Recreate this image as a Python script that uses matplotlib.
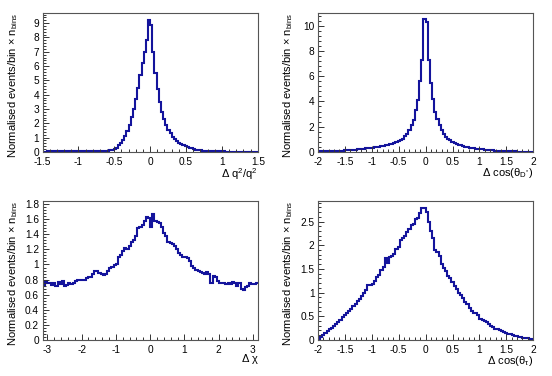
import numpy as np
import matplotlib
matplotlib.use('Agg')
import matplotlib.pyplot as plt
from matplotlib.ticker import MultipleLocator, AutoMinorLocator

plt.rcParams['font.family'] = ['Liberation Sans', 'DejaVu Sans']
plt.rcParams['mathtext.fontset'] = 'custom'
plt.rcParams['mathtext.rm'] = 'Liberation Sans'
plt.rcParams['mathtext.it'] = 'Liberation Sans'

# histogram contents, 100 bins each
q2_vals = [0.02, 0.02, 0.03, 0.03, 0.03, 0.03, 0.04, 0.04, 0.04, 0.05,
           0.05, 0.05, 0.06, 0.06, 0.07, 0.07, 0.08, 0.08, 0.08, 0.08,
           0.08, 0.07, 0.07, 0.06, 0.06, 0.05, 0.05, 0.05, 0.06, 0.07,
           0.08, 0.10, 0.14, 0.20, 0.30, 0.45, 0.62, 0.85, 1.10, 1.45,
           1.90, 2.45, 3.00, 3.70, 4.50, 5.40, 6.20, 7.00, 7.80, 9.20,
           8.90, 7.00, 5.50, 4.40, 3.50, 2.80, 2.30, 1.90, 1.55, 1.30,
           1.05, 0.90, 0.75, 0.62, 0.55, 0.48, 0.42, 0.36, 0.30, 0.25,
           0.20, 0.16, 0.13, 0.11, 0.09, 0.08, 0.07, 0.06, 0.05, 0.05,
           0.04, 0.04, 0.03, 0.03, 0.03, 0.02, 0.02, 0.02, 0.02, 0.02,
           0.01, 0.01, 0.01, 0.01, 0.01, 0.01, 0.01, 0.01, 0.01, 0.01]

cosd_vals = [0.04, 0.04, 0.05, 0.05, 0.06, 0.06, 0.07, 0.07, 0.08, 0.09,
             0.10, 0.11, 0.12, 0.13, 0.14, 0.15, 0.17, 0.18, 0.20, 0.21,
             0.23, 0.25, 0.27, 0.29, 0.31, 0.33, 0.35, 0.37, 0.40, 0.43,
             0.47, 0.52, 0.56, 0.60, 0.66, 0.72, 0.78, 0.86, 0.95, 1.05,
             1.25, 1.45, 1.70, 2.10, 2.55, 3.30, 4.10, 5.60, 7.30, 10.50,
             10.30, 7.30, 5.50, 4.20, 3.20, 2.60, 2.10, 1.75, 1.40, 1.20,
             1.05, 0.92, 0.80, 0.72, 0.65, 0.58, 0.52, 0.47, 0.42, 0.38,
             0.34, 0.31, 0.28, 0.25, 0.23, 0.21, 0.20, 0.18, 0.16, 0.14,
             0.13, 0.12, 0.10, 0.09, 0.08, 0.07, 0.07, 0.06, 0.05, 0.05,
             0.04, 0.04, 0.03, 0.03, 0.03, 0.03, 0.02, 0.02, 0.02, 0.02]

chi_vals = [0.72, 0.78, 0.76, 0.76, 0.73, 0.75, 0.72, 0.77, 0.74, 0.78,
            0.72, 0.73, 0.75, 0.74, 0.76, 0.78, 0.80, 0.80, 0.79, 0.80,
            0.82, 0.83, 0.84, 0.88, 0.92, 0.91, 0.89, 0.87, 0.86, 0.88,
            0.92, 0.95, 0.97, 0.99, 1.00, 1.10, 1.13, 1.18, 1.22, 1.20,
            1.25, 1.30, 1.33, 1.38, 1.48, 1.50, 1.52, 1.58, 1.63, 1.62,
            1.50, 1.67, 1.58, 1.57, 1.55, 1.50, 1.42, 1.38, 1.30, 1.28,
            1.27, 1.25, 1.20, 1.15, 1.12, 1.10, 1.10, 1.08, 1.05, 0.98,
            0.95, 0.93, 0.92, 0.90, 0.89, 0.88, 0.90, 0.87, 0.75, 0.85,
            0.84, 0.78, 0.76, 0.75, 0.75, 0.74, 0.75, 0.74, 0.77, 0.76,
            0.72, 0.76, 0.68, 0.66, 0.70, 0.72, 0.76, 0.74, 0.74, 0.75]

cost_vals = [0.02, 0.06, 0.10, 0.14, 0.18, 0.22, 0.26, 0.30, 0.34, 0.38,
             0.43, 0.48, 0.53, 0.57, 0.61, 0.66, 0.72, 0.76, 0.82, 0.86,
             0.93, 0.99, 1.05, 1.17, 1.17, 1.18, 1.25, 1.32, 1.38, 1.48,
             1.55, 1.72, 1.63, 1.76, 1.78, 1.82, 1.92, 1.96, 2.12, 2.15,
             2.20, 2.28, 2.35, 2.42, 2.45, 2.55, 2.58, 2.68, 2.78, 2.78,
             2.70, 2.50, 2.30, 2.15, 1.90, 1.85, 1.78, 1.60, 1.52, 1.45,
             1.36, 1.30, 1.22, 1.13, 1.08, 1.00, 0.95, 0.88, 0.80, 0.75,
             0.68, 0.60, 0.57, 0.56, 0.52, 0.44, 0.42, 0.40, 0.37, 0.33,
             0.30, 0.27, 0.24, 0.22, 0.20, 0.18, 0.17, 0.15, 0.13, 0.12,
             0.10, 0.09, 0.08, 0.07, 0.06, 0.05, 0.04, 0.03, 0.02, 0.01]

panels = [
    # values, xrange, ymax, x major, y major, x title
    (q2_vals, (-1.5, 1.5), 9.7, 0.5, 1, 'Δ q$^{2}$/q$^{2}$'),
    (cosd_vals, (-2, 2), 11.0, 0.5, 2, 'Δ cos(θ$_{D^{*}}$)'),
    (chi_vals, (-np.pi, np.pi), 1.84, 1, 0.2, 'Δ χ'),
    (cost_vals, (-2, 2), 2.93, 0.5, 0.5, 'Δ cos(θ$_{τ}$)'),
]

ylab = 'Normalised events/bin × n$_{bins}$'
pos = [[0.077, 0.596, 0.390, 0.369],
       [0.576, 0.596, 0.390, 0.369],
       [0.077, 0.096, 0.390, 0.369],
       [0.576, 0.096, 0.390, 0.369]]

fig = plt.figure(figsize=(5.52, 3.76), dpi=100)
for p, (vals, xr, ymax, xmaj, ymaj, xt) in zip(pos, panels):
    ax = fig.add_axes(p)
    edges = np.linspace(xr[0], xr[1], len(vals) + 1)
    ax.stairs(vals, edges, color='#14149c', lw=1.5, baseline=None)
    ax.set_xlim(xr)
    ax.set_ylim(0, ymax)
    ax.xaxis.set_major_locator(MultipleLocator(xmaj))
    ax.yaxis.set_major_locator(MultipleLocator(ymaj))
    ax.xaxis.set_minor_locator(AutoMinorLocator(5))
    ax.yaxis.set_minor_locator(AutoMinorLocator(5))
    ax.tick_params(which='both', direction='in', top=False, right=False,
                   labelsize=7.3, color='#333333', width=0.7)
    ax.tick_params(axis='x', which='major', pad=3.5)
    ax.tick_params(axis='y', which='major', pad=2.5)
    ax.tick_params(which='major', length=4)
    ax.tick_params(which='minor', length=2)
    ax.xaxis.set_major_formatter(plt.FuncFormatter(lambda v, _: '%g' % round(v, 2)))
    ax.yaxis.set_major_formatter(plt.FuncFormatter(lambda v, _: '%g' % round(v, 2)))
    for s in ax.spines.values():
        s.set_color('#555555')
        s.set_linewidth(0.8)
    ax.text(1.0, -0.105, xt, transform=ax.transAxes, ha='right', va='top', fontsize=8)
    ax.text(-0.137, 1.0, ylab, transform=ax.transAxes, rotation=90,
            ha='center', va='top', fontsize=8)

fig.savefig('out.png', dpi=100)
